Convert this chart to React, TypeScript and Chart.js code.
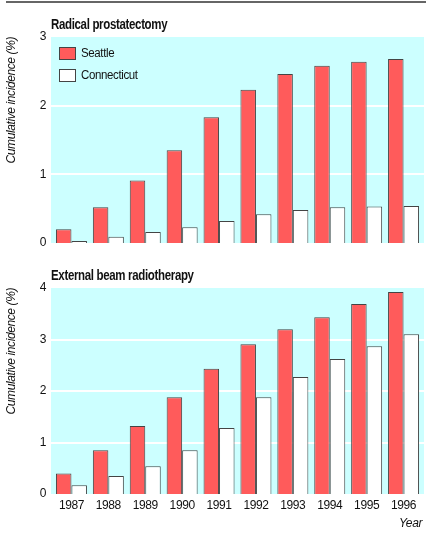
import React, { useEffect, useRef } from "react";
import { Chart, registerables } from "chart.js";

Chart.register(...registerables);

const years = ["1987", "1988", "1989", "1990", "1991", "1992", "1993", "1994", "1995", "1996"];
const seriesNames = ["Seattle", "Connecticut"];
const prostatectomySeattle = [0.2, 0.52, 0.91, 1.35, 1.83, 2.23, 2.46, 2.58, 2.64, 2.68];
const prostatectomyConnecticut = [0.03, 0.09, 0.16, 0.23, 0.32, 0.42, 0.48, 0.52, 0.53, 0.54];
const radiotherapySeattle = [0.4, 0.85, 1.32, 1.88, 2.43, 2.91, 3.2, 3.43, 3.69, 3.92];
const radiotherapyConnecticut = [0.17, 0.35, 0.54, 0.85, 1.28, 1.88, 2.27, 2.62, 2.87, 3.1];
const panelTitles = ["Radical prostatectomy", "External beam radiotherapy"];
const yTitle = "Cumulative incidence (%)";
const xTitle = "Year";

const FONT = "'Liberation Sans Narrow', 'Arial Narrow', 'Liberation Sans', Arial, sans-serif";
const RED = "#ff5b5b";
const CYAN = "#ccffff";
const EDGE = "#444444";

function makePlugin(title: string, showLegend: boolean) {
  return {
    id: "panelDeco",
    beforeDraw(chart: any) {
      chart.ctx.letterSpacing = "-0.4px";
    },
    beforeDatasetsDraw(chart: any) {
      const { ctx, chartArea } = chart;
      const y = chart.scales.y;
      ctx.save();
      ctx.fillStyle = CYAN;
      ctx.fillRect(chartArea.left - 2, chartArea.top, chartArea.right - chartArea.left + 4, chartArea.bottom - chartArea.top);
      ctx.strokeStyle = "#ffffff";
      ctx.lineWidth = 2;
      for (let v = 1; v < y.max; v++) {
        const py = Math.round(y.getPixelForValue(v));
        ctx.beginPath();
        ctx.moveTo(chartArea.left - 2, py);
        ctx.lineTo(chartArea.right + 2, py);
        ctx.stroke();
      }
      ctx.restore();
    },
    afterDraw(chart: any) {
      const { ctx, chartArea } = chart;
      ctx.save();
      ctx.fillStyle = "#111";
      ctx.font = "bold 14px " + FONT;
      ctx.textBaseline = "middle";
      ctx.textAlign = "left";
      ctx.save();
      ctx.translate(chartArea.left - 2, chartArea.top - 12);
      ctx.scale(0.82, 1);
      ctx.fillText(title, 0, 0);
      ctx.restore();
      if (showLegend) {
        const fills = [RED, "#ffffff"];
        ctx.font = "12.5px " + FONT;
        seriesNames.forEach((name, i) => {
          const bx = chartArea.left + 6;
          const by = chartArea.top + 10 + i * 22;
          ctx.fillStyle = fills[i];
          ctx.fillRect(bx, by, 17, 13);
          ctx.strokeStyle = EDGE;
          ctx.lineWidth = 1;
          ctx.strokeRect(bx + 0.5, by + 0.5, 16, 12);
          ctx.fillStyle = "#111";
          ctx.save();
          ctx.translate(bx + 22, by + 7);
          ctx.scale(0.92, 1);
          ctx.fillText(name, 0, 0);
          ctx.restore();
        });
      }
      ctx.restore();
    },
  };
}

function buildConfig(seattle: number[], conn: number[], max: number, title: string, showLegend: boolean, showX: boolean): any {
  return {
    type: "bar",
    data: {
      labels: years,
      datasets: [
        { label: seriesNames[0], data: seattle, backgroundColor: RED, borderColor: EDGE, borderWidth: 1 },
        { label: seriesNames[1], data: conn, backgroundColor: "#ffffff", borderColor: EDGE, borderWidth: 1 },
      ],
    },
    options: {
      animation: false,
      responsive: false,
      maintainAspectRatio: false,
      categoryPercentage: 0.84,
      barPercentage: 1,
      layout: { padding: { top: showX ? 26 : 37, bottom: showX ? 0 : 19, left: 0, right: 4 } },
      plugins: { legend: { display: false }, tooltip: { enabled: false }, title: { display: false } },
      scales: {
        x: {
          display: showX,
          grid: { display: false, drawTicks: false },
          border: { display: false },
          ticks: { color: "#111", font: { family: FONT, size: 12 }, padding: 4, maxRotation: 0 },
          title: { display: showX, text: xTitle, align: "end", color: "#111", font: { family: FONT, size: 12, style: "italic" }, padding: { top: 0, bottom: 3 } },
          afterFit: (s: any) => { if (showX) s.height = 40; },
        },
        y: {
          min: 0,
          max,
          grid: { display: false, drawTicks: false },
          border: { display: false },
          ticks: { stepSize: 1, color: "#111", font: { family: FONT, size: 12 }, padding: 7 },
          title: { display: true, text: yTitle, align: "end", color: "#111", font: { family: FONT, size: 12, style: "italic" }, padding: { top: 4, bottom: 0 } },
          afterFit: (s: any) => { s.width = 53; },
        },
      },
    },
    plugins: [makePlugin(title, showLegend)],
  };
}

export default function App() {
  const topRef = useRef<HTMLCanvasElement>(null);
  const botRef = useRef<HTMLCanvasElement>(null);
  useEffect(() => {
    const c1 = new Chart(topRef.current!, buildConfig(prostatectomySeattle, prostatectomyConnecticut, 3, panelTitles[0], true, false));
    const c2 = new Chart(botRef.current!, buildConfig(radiotherapySeattle, radiotherapyConnecticut, 4, panelTitles[1], false, true));
    return () => { c1.destroy(); c2.destroy(); };
  }, []);
  return (
    <div style={{ position: "absolute", left: 0, top: 0, width: 426, height: 534, background: "#fff", overflow: "hidden" }}>
      <div style={{ position: "absolute", left: 6, top: 1, width: 420, height: 2, background: "#666" }} />
      <canvas ref={topRef} width={426} height={262} style={{ position: "absolute", left: 0, top: 0, width: 426, height: 262 }} />
      <canvas ref={botRef} width={426} height={272} style={{ position: "absolute", left: 0, top: 262, width: 426, height: 272 }} />
    </div>
  );
}
